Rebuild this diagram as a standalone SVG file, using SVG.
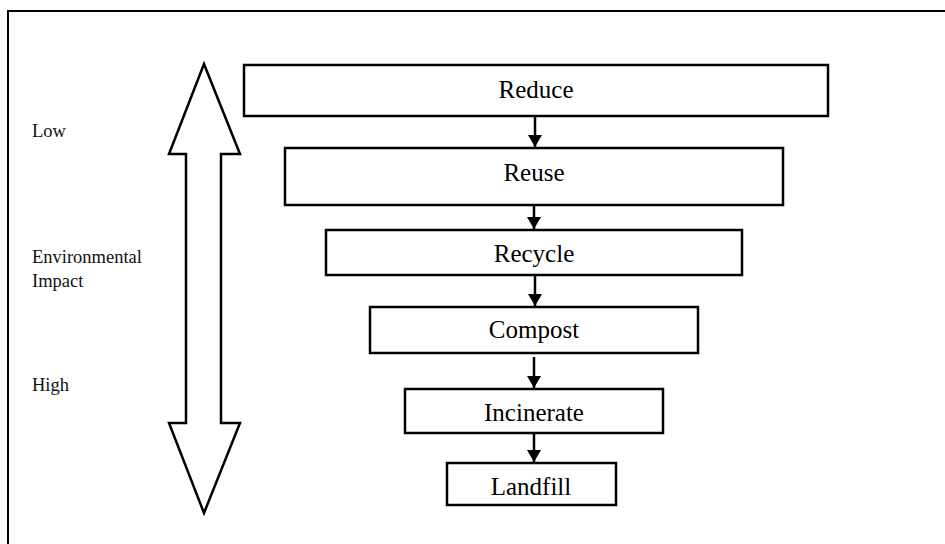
<svg xmlns="http://www.w3.org/2000/svg" width="945" height="544" viewBox="0 0 945 544">
  <style>
    .box { fill: #ffffff; stroke: #000000; stroke-width: 2.5; }
    .label { font-family: 'Liberation Serif', serif; font-size: 25px; fill: #000000; text-anchor: middle; }
    .side { font-family: 'Liberation Serif', serif; font-size: 18.5px; fill: #111111; }
    .link { stroke: #000000; stroke-width: 2.5; fill: none; }
  </style>
  <defs>
    <marker id="head" viewBox="0 0 12 14" refX="12" refY="7" markerWidth="12" markerHeight="14" markerUnits="userSpaceOnUse" orient="auto">
      <path d="M0,0 L12,7 L0,14 Z" fill="#000000"/>
    </marker>
  </defs>

  <rect width="945" height="544" fill="#ffffff"/>
  <!-- outer frame -->
  <rect x="8" y="11" width="950" height="550" fill="none" stroke="#000000" stroke-width="2"/>

  <!-- double-headed impact scale arrow -->
  <g id="scale-arrow">
    <path d="M204,64 L240,154 L221,154 L221,423 L240,423 L204,513 L169,423 L186,423 L186,154 L169,154 Z" fill="#ffffff" stroke="#000000" stroke-width="2.5" stroke-linejoin="miter"/>
  </g>

  <g id="axis-labels">
    <text class="side" x="32" y="137">Low</text>
    <text class="side" x="32" y="263">Environmental</text>
    <text class="side" x="32" y="287">Impact</text>
    <text class="side" x="32" y="391">High</text>
  </g>

  <g id="connectors">
    <line class="link" x1="535" y1="117" x2="535" y2="147" marker-end="url(#head)"/>
    <line class="link" x1="534" y1="206" x2="534" y2="229" marker-end="url(#head)"/>
    <line class="link" x1="535" y1="276" x2="535" y2="306" marker-end="url(#head)"/>
    <line class="link" x1="534" y1="357" x2="534" y2="388" marker-end="url(#head)"/>
    <line class="link" x1="534" y1="434" x2="534" y2="462" marker-end="url(#head)"/>
  </g>

  <g id="reduce">
    <rect class="box" x="244" y="65" width="584" height="51"/>
    <text class="label" x="536" y="98" font-family="Liberation Serif">Reduce</text>
  </g>
  <g id="reuse">
    <rect class="box" x="285" y="148" width="498" height="57"/>
    <text class="label" x="534" y="181" font-family="Liberation Serif">Reuse</text>
  </g>
  <g id="recycle">
    <rect class="box" x="326" y="230" width="416" height="45"/>
    <text class="label" x="534" y="262" font-family="Liberation Serif">Recycle</text>
  </g>
  <g id="compost">
    <rect class="box" x="370" y="307" width="328" height="46" stroke-width="3"/>
    <text class="label" x="534" y="338" font-family="Liberation Serif">Compost</text>
  </g>
  <g id="incinerate">
    <rect class="box" x="405" y="389" width="258" height="44"/>
    <text class="label" x="534" y="421" font-family="Liberation Serif">Incinerate</text>
  </g>
  <g id="landfill">
    <rect class="box" x="447" y="463" width="169" height="42"/>
    <text class="label" x="531" y="495" font-family="Liberation Serif">Landfill</text>
  </g>
</svg>
